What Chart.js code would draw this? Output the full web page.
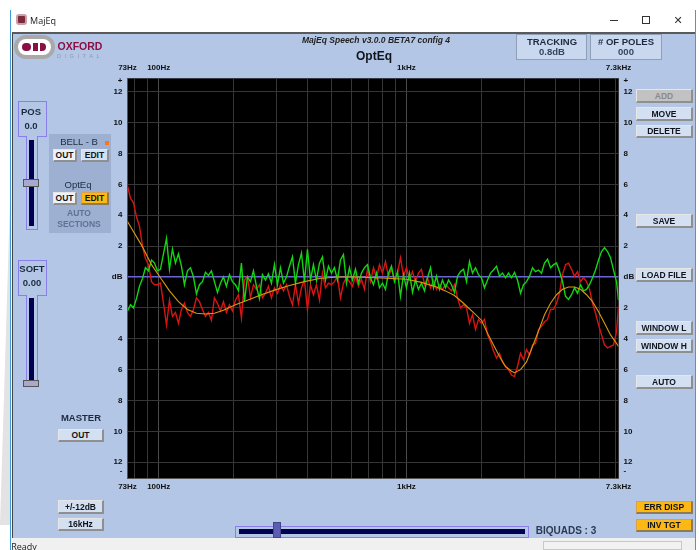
<!DOCTYPE html>
<html>
<head>
<meta charset="utf-8">
<title>MajEq</title>
<script src="https://cdn.jsdelivr.net/npm/chart.js@4"></script>
<style>
  html, body { margin: 0; padding: 0; background: #fff; overflow: hidden; }
  body { width: 699px; height: 550px; position: relative; font-family: "Liberation Sans", sans-serif; }
  #chart-1 { position: absolute; left: 0; top: 0; z-index: 5; }
  .a { position: absolute; box-sizing: border-box; }
  .t { position: absolute; white-space: nowrap; transform: translate(-50%, -50%); color: #1c2a3f; font-size: 10px; line-height: 1; z-index: 6; }
  .b { position: absolute; box-sizing: border-box; display: flex; align-items: center; justify-content: center;
       font-size: 8.5px; font-weight: bold; color: #10141c; background: #d3e0f2; z-index: 6;
       border-style: solid; border-width: 1px 2px 2px 1px; border-color: #e6e6e6 #8f8f8f #8f8f8f #e6e6e6; }
  .on { background: #fdb813; border-color: #d9a24a #8d7a58 #8d7a58 #d9a24a; }
  .w { background: #eef1f6; }
  .slot { border: 1px solid #8a7fe8; }
</style>
</head>
<body>
<div class="a" style="left:0;top:200px;width:10px;height:325px;background:#e3e3e3;clip-path:polygon(0 100%,100% 0,100% 100%,0 100%)"></div>
<div class="a" style="left:10px;top:10px;width:686px;height:540px;border-left:1px solid #3f9be0;border-right:1px solid #3f9be0"></div>
<div class="a" style="left:12px;top:32px;width:683px;height:506px;background:#b3c6e5;border-top:2px solid #5a5a5a;border-left:1px solid #444"></div>
<div class="a" style="left:12px;top:538px;width:683px;height:12px;background:#f0f0f0"></div>
<div class="a" style="left:543px;top:541px;width:139px;height:9px;border:1px solid #c8c8c8;background:#f2f2f2"></div>

<!-- title bar -->
<div class="a" style="left:16px;top:14px;width:11px;height:11px;background:#7a2a3a;border-radius:3px;border:2px solid #c9a0a8"></div>
<span class="t" style="left:43px;top:20px;font-family:'Open Sans';font-size:9px;color:#222">MajEq</span>
<div class="a" style="left:610px;top:20px;width:8px;height:1px;background:#333"></div>
<div class="a" style="left:642px;top:16px;width:8px;height:8px;border:1px solid #333"></div>
<span class="t" style="left:678px;top:20px;font-family:'DejaVu Sans';font-size:11px;color:#333">✕</span>

<!-- logo -->
<div class="a" style="left:14px;top:35px;width:41px;height:24px;background:#a9a9a9;border-radius:12px"></div>
<div class="a" style="left:18px;top:39px;width:33px;height:16px;background:#fff;border-radius:8px"></div>
<div class="a" style="left:22px;top:43px;width:9px;height:8px;background:#8a0f45;border-radius:4px"></div>
<div class="a" style="left:33px;top:43px;width:5px;height:8px;background:#8a0f45"></div>
<div class="a" style="left:40px;top:43px;width:6px;height:8px;background:#8a0f45;border-radius:0 4px 4px 0"></div>
<span class="t" style="left:80px;top:46px;font-size:10.5px;font-weight:bold;color:#8a0f45">OXFORD</span>
<span class="t" style="left:80px;top:57px;font-size:5.5px;letter-spacing:3.6px;color:#8e99a8">DIGITAL</span>

<!-- header -->
<span class="t" style="left:376px;top:40px;font-size:8.5px;font-weight:bold;font-style:italic;color:#222">MajEq Speech v3.0.0 BETA7 config 4</span>
<span class="t" style="left:374px;top:56px;font-size:12px;font-weight:bold;color:#10141c">OptEq</span>
<div class="a" style="left:516px;top:34px;width:71px;height:26px;background:#c9d8ee;border:1px solid #8ea0b8"></div>
<div class="a" style="left:590px;top:34px;width:72px;height:26px;background:#c9d8ee;border:1px solid #8ea0b8"></div>
<span class="t" style="left:552px;top:42px;font-weight:bold;font-size:9.5px">TRACKING</span>
<span class="t" style="left:552px;top:52px;font-size:9.5px;font-weight:bold;color:#34465f">0.8dB</span>
<span class="t" style="left:626px;top:42px;font-weight:bold;font-size:9.5px"># OF POLES</span>
<span class="t" style="left:626px;top:52px;font-size:9.5px;font-weight:bold;color:#34465f">000</span>

<!-- POS slider -->
<div class="a slot" style="left:18px;top:101px;width:29px;height:36px"></div>
<div class="a slot" style="left:26px;top:136px;width:12px;height:94px;background:#b3c6e5;border-top:0"></div>
<div class="a" style="left:29px;top:140px;width:5px;height:86px;background:#00004f"></div>
<div class="a" style="left:23px;top:179px;width:16px;height:8px;background:#a7a9cf;border:1px solid #555"></div>
<span class="t" style="left:31px;top:112px;font-size:9.5px;font-weight:bold">POS</span>
<span class="t" style="left:31px;top:126px;font-size:9.5px;font-weight:bold">0.0</span>

<!-- SOFT slider -->
<div class="a slot" style="left:18px;top:260px;width:29px;height:36px"></div>
<div class="a slot" style="left:26px;top:295px;width:12px;height:92px;background:#b3c6e5;border-top:0"></div>
<div class="a" style="left:29px;top:298px;width:5px;height:84px;background:#00004f"></div>
<div class="a" style="left:23px;top:380px;width:16px;height:7px;background:#a7a9cf;border:1px solid #555"></div>
<span class="t" style="left:32px;top:269px;font-size:9.5px;font-weight:bold">SOFT</span>
<span class="t" style="left:32px;top:283px;font-size:9.5px;font-weight:bold">0.00</span>

<!-- auto sections panel -->
<div class="a" style="left:49px;top:134px;width:62px;height:99px;background:#9db0d2"></div>
<span class="t" style="left:79px;top:142px;font-size:9.5px">BELL - B</span>
<div class="a" style="left:105px;top:141px;width:4px;height:4px;background:#f07a20"></div>
<div class="b w" style="left:53px;top:149px;width:24px;height:13px">OUT</div>
<div class="b" style="left:81px;top:149px;width:28px;height:13px">EDIT</div>
<span class="t" style="left:78px;top:185px;font-size:9.5px">OptEq</span>
<div class="b w" style="left:53px;top:192px;width:24px;height:13px">OUT</div>
<div class="b on" style="left:81px;top:192px;width:28px;height:13px">EDIT</div>
<span class="t" style="left:79px;top:213px;font-size:8.5px;font-weight:bold;color:#5f7296">AUTO</span>
<span class="t" style="left:79px;top:224px;font-size:8.5px;font-weight:bold;color:#5f7296">SECTIONS</span>

<!-- master -->
<span class="t" style="left:81px;top:418px;font-size:9.5px;font-weight:bold">MASTER</span>
<div class="b" style="left:58px;top:429px;width:46px;height:13px">OUT</div>
<div class="b" style="left:58px;top:500px;width:46px;height:14px">+/-12dB</div>
<div class="b" style="left:58px;top:518px;width:46px;height:13px">16kHz</div>

<!-- right buttons -->
<div class="b" style="left:636px;top:89px;width:57px;height:14px;background:#c2c2c2;color:#8a8a8a">ADD</div>
<div class="b" style="left:636px;top:107px;width:57px;height:14px">MOVE</div>
<div class="b" style="left:636px;top:125px;width:57px;height:13px">DELETE</div>
<div class="b" style="left:636px;top:214px;width:57px;height:14px">SAVE</div>
<div class="b" style="left:636px;top:268px;width:57px;height:14px">LOAD FILE</div>
<div class="b" style="left:636px;top:321px;width:57px;height:14px">WINDOW L</div>
<div class="b" style="left:636px;top:339px;width:57px;height:14px">WINDOW H</div>
<div class="b" style="left:636px;top:375px;width:57px;height:14px">AUTO</div>
<div class="b on" style="left:636px;top:501px;width:57px;height:13px">ERR DISP</div>
<div class="b on" style="left:636px;top:519px;width:57px;height:13px">INV TGT</div>

<!-- bottom slider -->
<div class="a slot" style="left:235px;top:526px;width:294px;height:12px"></div>
<div class="a" style="left:239px;top:529px;width:286px;height:5px;background:#00004f"></div>
<div class="a" style="left:273px;top:522px;width:8px;height:16px;background:#5c5cb0;border:1px solid #44448a"></div>
<span class="t" style="left:566px;top:531px;font-size:10px;font-weight:bold;color:#2b3a52">BIQUADS : 3</span>
<span class="t" style="left:24px;top:546px;font-family:'Open Sans';font-size:9px;color:#222">Ready</span>

<canvas id="chart-1" width="699" height="550"></canvas>

<script>
// frequency of each reading, Hz
const freqs = [
  74.8, 76.9, 79.1, 81.3, 83.6, 86.0, 88.4, 90.9, 93.5, 96.1,
  98.8, 101.6, 104.5, 107.5, 110.5, 113.6, 116.8, 120.1, 123.5, 127.0,
  130.6, 134.3, 138.1, 142.0, 146.0, 150.1, 154.4, 158.7, 163.2, 167.8,
  172.6, 177.5, 182.5, 187.6, 193.0, 198.4, 204.0, 209.8, 215.7, 221.8,
  228.1, 234.6, 241.2, 248.0, 255.0, 262.2, 269.7, 277.3, 285.1, 293.2,
  301.5, 310.0, 318.8, 327.8, 337.1, 346.6, 356.4, 366.5, 376.9, 387.5,
  398.5, 409.8, 421.3, 433.3, 445.5, 458.1, 471.1, 484.4, 498.1, 512.2,
  526.7, 541.6, 556.9, 572.7, 588.9, 605.5, 622.7, 640.3, 658.4, 677.0,
  696.1, 715.8, 736.1, 756.9, 778.3, 800.3, 822.9, 846.2, 870.2, 894.8,
  920.1, 946.1, 972.9, 1000, 1029, 1058, 1088, 1118, 1150, 1183,
  1216, 1251, 1286, 1322, 1360, 1398, 1438, 1479, 1520, 1563,
  1608, 1653, 1700, 1748, 1797, 1848, 1900, 1954, 2009, 2066,
  2125, 2185, 2247, 2310, 2375, 2442, 2512, 2583, 2656, 2731,
  2808, 2888, 2969, 3053, 3140, 3229, 3320, 3414, 3510, 3610,
  3712, 3817, 3925, 4036, 4150, 4267, 4388, 4512, 4640, 4771,
  4906, 5045, 5187, 5334, 5485, 5640, 5800, 5964, 6132, 6306,
  6484, 6667, 6856, 7050, 7180,
];

const errorDb = [
  -2.2, -1.8, -2.0, -1.4, -0.6, -0.1, 0.6, 0.4, 1.1, 0.9,
  0.4, 0.5, 1.5, 2.5, 0.5, 1.8, 0.9, 1.5, 0.7, -0.5,
  0.4, 0.6, 0, -1.1, -0.5, -0.3, 0.3, 0.1, 0.4, -0.3,
  -1.0, -0.4, 0, -0.6, 0.15, -0.3, -0.5, -0.9, 0.9, -1.6,
  0, -0.3, 0.4, -0.6, -1.4, 0.15, -0.2, 0.2, -0.4, 0.8,
  -0.5, 0.6, -0.4, 0, 0.7, 1.3, -0.4, 0.8, 1.55, -0.3,
  1.8, -0.2, 0.8, -0.2, 0.9, 1.3, -0.2, 0.7, 0.25, 0.6,
  -0.2, 1.1, 1.45, -0.4, 0.6, -0.2, 0.5, -0.4, 0.25, 0.6,
  0.8, -0.05, -0.5, 0.25, -0.7, -0.4, -0.8, 0.25, 0.7, -0.3,
  0.35, -1.25, 0.15, -0.7, 0.25, -1.0, -0.2, -0.8, -0.4, -0.9,
  -0.05, 0.6, -0.7, 0.05, -0.8, -0.2, -0.7, -0.2, -0.5, -1.0,
  0.05, 0.35, 0.5, -0.3, 1.0, 0.25, 0.6, 0.15, -0.05, -0.7,
  -0.2, 0.25, 0.45, 0.7, 0.05, 0.25, -0.05, 0.25, -0.05, 0.3,
  -0.2, -1.05, -0.5, -0.3, 0.05, 0.6, 0.35, 0.45, 0.25, 0.9,
  1.15, 0.6, 0.8, 0.9, 0.35, -0.3, -1.25, -1.45, -1.15, -0.7,
  -1.05, -0.5, -0.9, -0.8, -0.5, -0.05, 0.45, 1.1, 1.65, 1.9,
  1.65, 1.25, 0.45, -0.3, -1.5,
];

const targetDb = [
  5.9, 5.1, 4.8, 3.9, 3.3, 2.0, 1.2, 0.8, -0.3, -0.5,
  -0.5, -0.4, -1.7, -3.1, -1.5, -2.55, -2.3, -3.0, -2.1, -1.7,
  -2.3, -2.55, -2.1, -1.35, -1.6, -2.1, -2.55, -2.3, -2.8, -1.35,
  -1.7, -2.2, -1.6, -2.3, -1.8, -2.2, -1.5, -1.15, -2.65, -0.2,
  0.05, -1.35, -0.5, -0.8, -0.5, -1.35, -1.05, -0.6, -1.35, -0.7,
  -1.05, -0.5, -0.9, -0.5, -1.25, -1.8, -0.5, -1.7, -0.7, -0.2,
  -2.1, -0.5, -1.15, -0.5, -1.5, 0.25, -0.7, -0.4, -0.5, -0.3,
  0.05, -1.35, -0.4, -0.05, -0.3, -0.6, 0.05, -0.6, -0.15, -0.8,
  0.5, -0.3, 0.6, -0.05, 0.8, 0.25, 1.0, 0.05, 0.5, -0.15,
  0.25, 1.25, 0.05, 0.6, -0.15, 0.35, -0.3, 0.25, 0.5, -0.5,
  -0.05, -0.7, -0.2, -0.8, -0.5, -0.8, -0.5, -0.7, -0.9, -0.5,
  -1.35, -2.0, -1.8, -2.0, -3.0, -2.45, -3.4, -2.75, -3.0, -2.75,
  -3.75, -4.2, -4.8, -5.25, -4.95, -5.5, -5.8, -6.0, -6.35, -6.45,
  -5.8, -4.95, -5.35, -4.7, -5.05, -4.4, -4.3, -3.4, -3.2, -2.9,
  -2.75, -2.1, -2.1, -1.7, -1.05, 0.15, 0.8, 0.9, 0.5, 0.05,
  0.35, -0.3, -0.05, -0.3, -0.8, -1.7, -2.35, -3.1, -3.75, -4.4,
  -4.6, -4.5, -4.4, -3.55, -1.9,
];

const optFreqs = [
  74.8, 86.0, 93.5, 101.6, 110.5, 120.1, 130.6, 142.0, 154.4, 167.8,
  182.5, 204.0, 228.1, 255.0, 293.2, 337.1, 387.5, 445.5, 526.7, 622.7,
  756.9, 870.2, 1000, 1150, 1322, 1438, 1563, 1700, 1848, 2009,
  2125, 2247, 2375, 2512, 2656, 2731, 2888, 3053, 3229, 3414,
  3610, 3817, 4036, 4267, 4512, 4771, 5045, 5334, 5640, 5964,
  6306, 6667, 7050, 7180,
];

const optDb = [
  3.6, 1.95, 0.8, -0.05, -0.9, -1.6, -2.1, -2.35, -2.4, -2.35,
  -2.15, -1.8, -1.5, -1.2, -0.85, -0.55, -0.3, -0.1, 0, 0,
  -0.05, -0.1, -0.15, -0.35, -0.65, -0.9, -1.2, -1.7, -2.25, -2.8,
  -3.65, -4.4, -5.15, -5.8, -6.1, -6.2, -6.0, -5.5, -4.5, -3.5,
  -2.45, -1.7, -1.15, -0.8, -0.65, -0.65, -0.8, -1.15, -1.6, -2.25,
  -3.0, -3.75, -4.3, -4.5,
];

// axis labels
const freqMin = 74.8;
const freqMax = 7180;
const gridFreqs = [freqMin, 80, 90, 100, 200, 300, 400, 500, 600, 700, 800, 900,
  1000, 2000, 3000, 4000, 5000, 6000, 7000, freqMax];
const freqLabels = { [freqMin]: "73Hz", 100: "100Hz", 1000: "1kHz", [freqMax]: "7.3kHz" };
const plusTick = 12.7;
const minusTick = -12.56;
const dbTicks = [plusTick, 12, 10, 8, 6, 4, 2, 0, -2, -4, -6, -8, -10, -12, minusTick];

function toPoints(xs, ys) {
  return xs.map((x, i) => ({ x: x, y: ys[i] }));
}

function dbLabel(v) {
  if (v === plusTick) return "+";
  if (v === minusTick) return "-";
  if (v === 0) return "dB";
  return String(Math.abs(v));
}

const tickFont = { family: "Liberation Sans", size: 8, weight: "bold" };

function lineSet(label, data, color, order, width) {
  return {
    label: label, data: data, borderColor: color, borderWidth: width,
    pointRadius: 0, tension: 0, order: order, parsing: false,
    xAxisID: "x", yAxisID: "y",
  };
}

function freqAxis(position, showGrid) {
  return {
    type: "logarithmic", position: position, min: freqMin, max: freqMax,
    afterBuildTicks: (s) => { s.ticks = gridFreqs.map((v) => ({ value: v })); },
    afterFit: (s) => { s.height = 20; },
    ticks: {
      autoSkip: false, maxRotation: 0, minRotation: 0, padding: position === "top" ? 6 : 4,
      color: "#111", font: tickFont,
      callback: (v) => freqLabels[v] || "",
    },
    border: { display: showGrid, color: "#555" },
    grid: {
      display: showGrid, drawTicks: false, lineWidth: 1,
      color: (c) => (c.tick && (c.tick.value === 100 || c.tick.value === 1000) ? "#4a4a4a" : "#363636"),
    },
  };
}

function dbAxis(position, showGrid) {
  return {
    type: "linear", position: position, min: -13.04, max: 12.87,
    afterBuildTicks: (s) => { s.ticks = dbTicks.map((v) => ({ value: v })); },
    afterFit: (s) => { s.width = 20; },
    ticks: {
      autoSkip: false, padding: 5, color: "#111", font: tickFont,
      callback: (v) => dbLabel(v),
    },
    border: { display: showGrid, color: "#555" },
    grid: {
      display: showGrid, drawTicks: false,
      lineWidth: (c) => (c.tick && c.tick.value === 0 ? 1.5 : 1),
      color: (c) => {
        const v = c.tick ? c.tick.value : null;
        if (v === plusTick || v === minusTick) return "rgba(0,0,0,0)";
        return v === 0 ? "#6a64d4" : "#363636";
      },
    },
  };
}

const blackPlot = {
  id: "blackPlot",
  beforeDraw(chart) {
    const a = chart.chartArea;
    chart.ctx.fillStyle = "#000";
    chart.ctx.fillRect(a.left, a.top, a.width, a.height);
  },
};

const chart1 = new Chart(document.getElementById("chart-1"), {
  type: "line",
  data: {
    datasets: [
      lineSet("Target", toPoints(freqs, targetDb), "#d81414", 3, 1.4),
      lineSet("Error", toPoints(freqs, errorDb), "#12d612", 2, 1.4),
      lineSet("OptEq", toPoints(optFreqs, optDb), "#d69a10", 1, 1.1),
    ],
  },
  options: {
    responsive: false,
    animation: false,
    layout: { padding: { left: 107.5, right: 60.5, top: 58.3, bottom: 51.7 } },
    plugins: { legend: { display: false }, tooltip: { enabled: false } },
    scales: {
      x: freqAxis("bottom", true),
      xTop: freqAxis("top", false),
      y: dbAxis("left", true),
      yRight: dbAxis("right", false),
    },
  },
  plugins: [blackPlot],
});
</script>
</body>
</html>
